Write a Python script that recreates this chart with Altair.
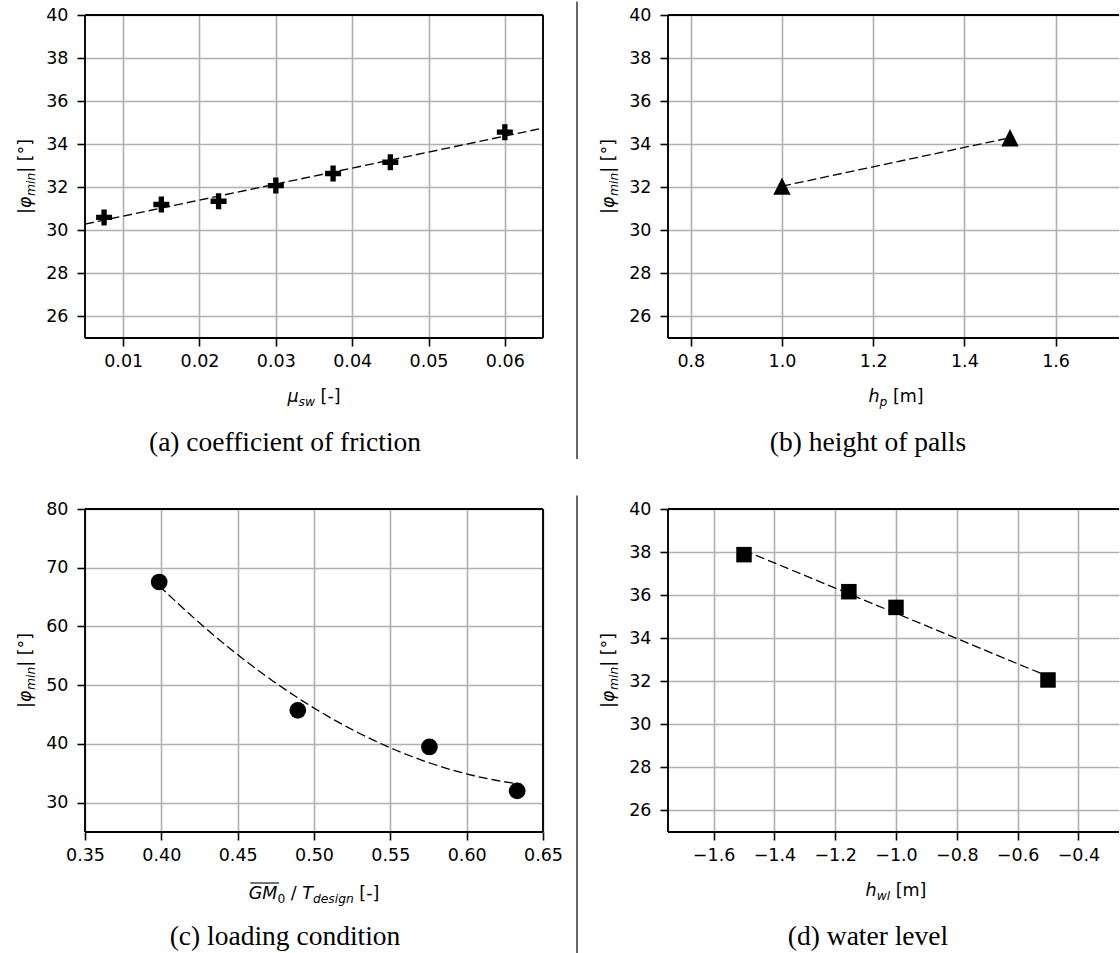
import altair as alt
import pandas as pd

# ---------------- data ----------------
# (a) coefficient of friction
mu_sw = [0.0075, 0.015, 0.0225, 0.03, 0.0375, 0.045, 0.06]
phi_a = [30.6, 31.2, 31.35, 32.08, 32.64, 33.16, 34.56]
# (b) height of palls
h_p = [1.0, 1.5]
phi_b = [32.05, 34.3]
# (c) loading condition
gm_t = [0.3986, 0.4894, 0.5756, 0.6331]
phi_c = [67.57, 45.72, 39.48, 32.0]
# (d) water level
h_wl = [-1.5, -1.155, -1.0, -0.5]
phi_d = [37.88, 36.16, 35.43, 32.06]

# tick values
xt_a = [0.01, 0.02, 0.03, 0.04, 0.05, 0.06]
xt_b = [0.8, 1.0, 1.2, 1.4, 1.6]
xt_c = [0.35, 0.40, 0.45, 0.50, 0.55, 0.60, 0.65]
xt_d = [-1.6, -1.4, -1.2, -1.0, -0.8, -0.6, -0.4]
yt_40 = [26, 28, 30, 32, 34, 36, 38, 40]
yt_80 = [30, 40, 50, 60, 70, 80]

captions = ["(a) coefficient of friction", "(b) height of palls",
            "(c) loading condition", "(d) water level"]

# ---------------- layout constants ----------------
WL, WR, H = 458, 451, 323
FS, SUB, SDY = 17.5, 12.3, 3.8
ONE = pd.DataFrame({"k": [0]})

ADV = {' ': .318, '|': .337, 'φ': .70, 'm': .974, 'i': .278, 'n': .634,
       '[': .390, ']': .390, '°': .500, '-': .361, 'μ': .636, 's': .521,
       'w': .818, 'h': .634, 'p': .635, 'l': .278, 'G': .775, 'M': .863,
       '0': .636, '/': .337, 'T': .611, 'd': .635, 'e': .615, 'g': .635}


def tw(s, size):
    return sum(ADV.get(c, 0.6) for c in s) * size


def txt(text, x, y, size, italic=False, angle=0, font="DejaVu Sans",
        align="left", baseline="alphabetic"):
    mk = dict(align=align, baseline=baseline, fontSize=size, font=font,
              color="black")
    if italic:
        mk["fontStyle"] = "italic"
    if angle:
        mk["angle"] = angle
    return alt.Chart(ONE).mark_text(**mk).encode(
        x=alt.value(x), y=alt.value(y), text=alt.value(text))


def rule(x, y, x2, y2, w=1.9, color="black", opacity=1.0):
    return alt.Chart(ONE).mark_rule(color=color, strokeWidth=w,
                                    opacity=opacity).encode(
        x=alt.value(x), x2=alt.value(x2), y=alt.value(y), y2=alt.value(y2))


def htitle(pieces, cx, by):
    total = sum(tw(t, s) for t, s, it, dy in pieces)
    x = cx - total / 2
    out, pos = [], []
    for t, s, it, dy in pieces:
        lead = len(t) - len(t.lstrip(' '))
        d = t.strip(' ')
        xx = x + tw(' ' * lead, s)
        if d:
            out.append(txt(d, xx, by + dy, s, it))
        pos.append((xx, xx + tw(d, s)))
        x += tw(t, s)
    return out, pos


def vtitle(pieces, bx, cy):
    total = sum(tw(t, s) for t, s, it, dy in pieces)
    off = 0
    out = []
    for t, s, it, dy in pieces:
        lead = len(t) - len(t.lstrip(' '))
        d = t.strip(' ')
        o = off + tw(' ' * lead, s)
        if d:
            out.append(txt(d, bx + dy, cy + total / 2 - o, s, it, angle=270))
        off += tw(t, s)
    return out


YT = [("|", FS, False, 0), ("φ", FS, True, 0), ("min", SUB, True, SDY),
      ("| [°]", FS, False, 0)]


def panel(xs, ys, xdom, ydom, xvals, yvals, xfmt, shape, size, reg, W,
          xtitle, caption, right=False, anchor=False, xby=387, overline=False):
    df = pd.DataFrame({"x": xs, "y": ys})
    X = alt.X("x:Q", scale=alt.Scale(domain=xdom, nice=False, zero=False),
              axis=alt.Axis(values=xvals, format=xfmt, title=None,
                            labelPadding=6))
    Y = alt.Y("y:Q", scale=alt.Scale(domain=ydom, nice=False, zero=False),
              axis=alt.Axis(values=yvals, format="d", title=None,
                            labelPadding=9))
    line = alt.Chart(df).transform_regression("x", "y", **reg).mark_line(
        color="black", strokeWidth=1.3, strokeDash=[9, 4]).encode(x=X, y=Y)
    pts = alt.Chart(df).mark_point(shape=shape, filled=True, size=size,
                                   color="black", opacity=1).encode(x=X, y=Y)
    layers = [line, pts]
    # frame (spines)
    layers += [rule(0, 0, W, 0), rule(0, H, W, H), rule(0, 0, 0, H)]
    if not right:
        layers.append(rule(W, 0, W, H))
    # axis titles
    ht, pos = htitle(xtitle, 229 if not right else 228, xby)
    layers += ht
    if overline:
        x0, x1 = pos[0]
        layers.append(rule(x0 + 1.5, xby - 16, x1 + 1.5, xby - 16, w=1.1))
    layers += vtitle(YT, -54, 161.5)
    # caption
    layers.append(txt(caption, 200, 428, 27.5, font="Liberation Serif",
                      align="center", baseline="middle"))
    if right:
        layers.append(rule(-91, -13.5, -91, 444, w=1.2))
    if anchor:
        layers.append(rule(-85, -14, -85, 0, w=0, opacity=0))
    return alt.layer(*layers).properties(width=W, height=H)


PLUS = "M-0.333,-1H0.333V-0.333H1V0.333H0.333V1H-0.333V0.333H-1V-0.333H-0.333Z"
TRI = "M0,-1L1,1L-1,1Z"

pa = panel(mu_sw, phi_a, [0.005, 0.065], [25, 40], xt_a, yt_40, ".2f",
           PLUS, 256, dict(method="linear", extent=[0.005, 0.065]), WL,
           [("μ", FS, True, 0), ("sw", SUB, True, SDY), (" [-]", FS, False, 0)],
           captions[0], anchor=True)
pb = panel(h_p, phi_b, [0.75, 0.75 + WR / 456.0], [25, 40], xt_b, yt_40,
           ".1f", TRI, 300, dict(method="linear"), WR,
           [("h", FS, True, 0), ("p", SUB, True, SDY), (" [m]", FS, False, 0)],
           captions[1], right=True)
pc = panel(gm_t, phi_c, [0.35, 0.65], [25, 80], xt_c, yt_80, ".2f",
           "circle", 280, dict(method="poly", order=2), WL,
           [("GM", FS, True, 0), ("0", SUB, False, SDY), (" / ", FS, False, 0),
            ("T", FS, True, 0), ("design", SUB, True, SDY),
            (" [-]", FS, False, 0)],
           captions[2], xby=390, overline=True)
pd_ = panel(h_wl, phi_d, [-1.75, -1.75 + WR / 304.0], [25, 40], xt_d, yt_40,
            ".1f", "square", 240, dict(method="linear"), WR,
            [("h", FS, True, 0), ("wl", SUB, True, SDY), (" [m]", FS, False, 0)],
            captions[3], right=True)

chart = alt.concat(pa, pb, pc, pd_, columns=2,
                   spacing={"row": 171, "column": 125},
                   bounds="flush").properties(padding=0).configure_view(
    stroke=None).configure_axis(
    domain=False, grid=True, gridColor="#b0b0b0", gridWidth=1.6,
    tickColor="black", tickWidth=1.6, tickSize=8, labelFont="DejaVu Sans",
    labelFontSize=17.5, labelColor="black", labelFlush=False,
    labelOverlap=False)

chart.save("out.html", embed_options={"renderer": "svg", "actions": False})
